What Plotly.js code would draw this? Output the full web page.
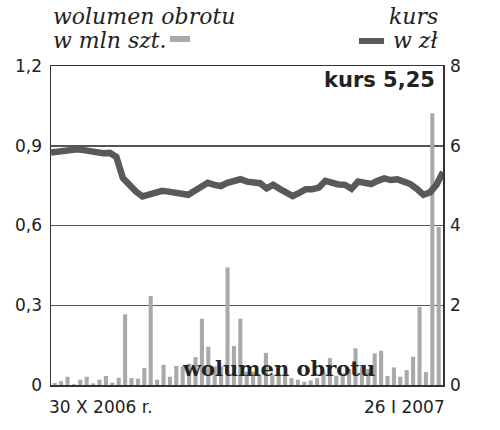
<!DOCTYPE html>
<html>
<head>
<meta charset="utf-8">
<script src="https://cdn.plot.ly/plotly-3.0.1.min.js"></script>
<style>body{margin:0;background:#fff}#c{width:500px;height:430px}</style>
</head>
<body>
<div id="c"></div>
<script>
// wolumen obrotu (mln szt.), 30 X 2006 – 26 I 2007
const volume = [0.008,0.014,0.031,0.003,0.02,0.031,0.006,0.02,0.034,0.009,
  0.027,0.266,0.026,0.024,0.064,0.335,0.02,0.076,0.031,0.072,
  0.07,0.08,0.105,0.249,0.144,0.07,0.07,0.442,0.147,0.249,
  0.05,0.05,0.04,0.121,0.04,0.034,0.034,0.026,0.02,0.012,
  0.017,0.026,0.05,0.101,0.035,0.044,0.06,0.138,0.07,0.06,
  0.119,0.129,0.034,0.066,0.031,0.056,0.106,0.294,0.049,1.022,0.594];
// kurs (zł)
const price = [5.83,5.86,5.89,5.91,5.91,5.89,5.86,5.81,5.81,5.82,
  5.72,5.19,4.99,4.85,4.73,4.79,4.85,4.87,4.85,4.82,
  4.78,4.77,4.87,4.99,5.07,5.02,4.99,5.07,5.12,5.16,
  5.10,5.07,5.06,4.93,5.02,4.92,4.83,4.74,4.82,4.91,
  4.91,4.95,5.12,5.07,5.03,5.02,4.92,5.10,5.08,5.04,
  5.12,5.18,5.14,5.16,5.10,5.04,4.92,4.77,4.83,5.02,5.34];
const leftTicks = [0, 0.3, 0.6, 0.9, 1.2];
const leftTickText = ['0', '0,3', '0,6', '0,9', '1,2'];
const rightTicks = [0, 2, 4, 6, 8];
const dateStart = '30 X 2006 r.';
const dateEnd = '26 I 2007';

const volX = volume.map((_, i) => i);
const priceX = price.map((_, i) => i);

const barColor = '#a9a9a9';
const lineColor = '#595959';
const tickFont = {family: 'DejaVu Sans', size: 17, color: '#222'};
const titleFont = {family: 'DejaVu Serif', size: 22, style: 'italic', color: '#222'};

const traces = [
  {type: 'bar', x: volX, y: volume, marker: {color: barColor}, xaxis: 'x', yaxis: 'y', hoverinfo: 'none'},
  {type: 'scatter', mode: 'lines', x: priceX, y: price, xaxis: 'x2', yaxis: 'y2',
   line: {color: lineColor, width: 6.5, shape: 'linear'}, hoverinfo: 'none'}
];

function px(x) { return (x - 51) / 392; }
function py(y) { return (385 - y) / 319; }

const layout = {
  width: 500, height: 430,
  margin: {l: 51, r: 57, t: 66, b: 45},
  paper_bgcolor: '#fff', plot_bgcolor: '#fff',
  showlegend: false,
  bargap: 0.36,
  xaxis: {range: [-0.58, volume.length - 1 + 0.67], showticklabels: false, ticks: '',
          showgrid: false, zeroline: false, showline: true, mirror: true,
          linecolor: '#333', linewidth: 1.5},
  xaxis2: {range: [0, price.length - 1], overlaying: 'x', visible: false},
  yaxis: {range: [0, 1.2], tickvals: leftTicks, ticktext: leftTickText, tickfont: tickFont,
          ticks: '', showgrid: true, gridcolor: '#555', gridwidth: 1.5, zeroline: false,
          showline: true, mirror: true, linecolor: '#333', linewidth: 1.5, ticklabelstandoff: 4},
  yaxis2: {range: [0, 8], overlaying: 'y', side: 'right', tickvals: rightTicks, tickfont: tickFont,
           ticks: '', showgrid: false, zeroline: false, showline: false, ticklabelstandoff: 6},
  shapes: [
    {type: 'rect', xref: 'paper', yref: 'paper', x0: px(170), x1: px(190), y0: py(42), y1: py(36),
     fillcolor: barColor, line: {width: 0}},
    {type: 'line', xref: 'paper', yref: 'paper', x0: px(359), x1: px(384), y0: py(41), y1: py(41),
     line: {color: lineColor, width: 6}}
  ],
  annotations: [
    {text: 'wolumen obrotu', xref: 'paper', yref: 'paper', x: px(51), y: py(16), xanchor: 'left', yanchor: 'middle',
     showarrow: false, font: titleFont},
    {text: 'w mln szt.', xref: 'paper', yref: 'paper', x: px(51), y: py(41), xanchor: 'left', yanchor: 'middle',
     showarrow: false, font: titleFont},
    {text: 'kurs', xref: 'paper', yref: 'paper', x: px(440), y: py(16), xanchor: 'right', yanchor: 'middle',
     showarrow: false, font: titleFont},
    {text: 'w zł', xref: 'paper', yref: 'paper', x: px(440), y: py(41), xanchor: 'right', yanchor: 'middle',
     showarrow: false, font: titleFont},
    {text: '<b>kurs 5,25</b>', xref: 'paper', yref: 'paper', x: px(437), y: py(80), xanchor: 'right', yanchor: 'middle',
     showarrow: false, font: {family: 'DejaVu Sans', size: 21, color: '#222'}},
    {text: '<b>wolumen obrotu</b>', xref: 'paper', yref: 'paper', x: px(180), y: py(368), xanchor: 'left', yanchor: 'middle',
     showarrow: false, font: {family: 'DejaVu Serif', size: 21, color: '#222'}},
    {text: dateStart, xref: 'paper', yref: 'paper', x: px(47), y: py(407), xanchor: 'left', yanchor: 'middle',
     showarrow: false, font: {family: 'DejaVu Sans', size: 17, color: '#222'}},
    {text: dateEnd, xref: 'paper', yref: 'paper', x: px(447), y: py(407), xanchor: 'right', yanchor: 'middle',
     showarrow: false, font: {family: 'DejaVu Sans', size: 17, color: '#222'}}
  ]
};

Plotly.newPlot('c', traces, layout, {staticPlot: true, displayModeBar: false});
</script>
</body>
</html>
